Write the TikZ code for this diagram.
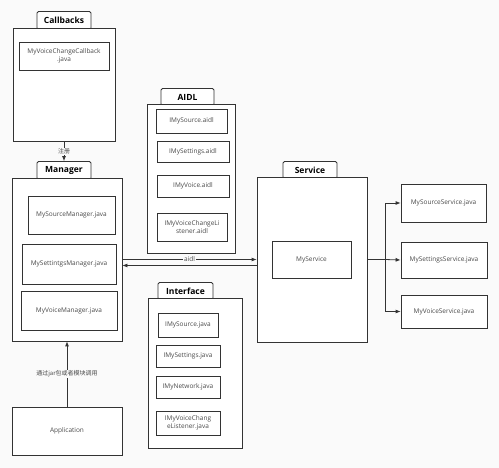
\documentclass[tikz,border=0pt]{standalone}
\usepackage{fontspec}
\setmainfont{Open Sans}
\newfontfamily\cjk{Noto Sans CJK SC}
\usetikzlibrary{arrows.meta,positioning}
\definecolor{Ink}{HTML}{333333}
\definecolor{Muted}{HTML}{4A4A4A}
\definecolor{Paper}{HTML}{FAFAFA}

\begin{document}
\begin{tikzpicture}[
  x=1pt,y=-1pt,
  every node/.style={font=\fontsize{6.5}{7.8}\selectfont,text=Muted},
  grp/.style={draw=Ink,line width=0.8pt,fill=white,inner sep=0pt},
  tab/.style={draw=Ink,line width=0.8pt,fill=white,rounded corners=1.5pt,inner sep=0pt,
    font=\fontsize{8.5}{10}\selectfont\bfseries,text=black},
  item/.style={draw=Ink,line width=0.8pt,fill=white,align=center,inner sep=1pt},
  arr/.style={-{Latex[length=5pt,width=4pt]},line width=0.8pt,color=Ink},
  wire/.style={line width=0.8pt,color=Ink}
]
\fill[Paper] (0,0) rectangle (499,468);
\useasboundingbox (0,0) rectangle (499,468);

% Callbacks
\node[tab,minimum width=54pt,minimum height=18pt,text height=7pt,yshift=1.5pt] (cbtab) at (64,22) {Callbacks};
\node[grp,minimum width=102pt,minimum height=113pt] (cbgrp) at (64,84.5) {};
\node[item,minimum width=90pt,minimum height=28pt] (cbitem) at (64,56) {MyVoiceChangeCallback\\.java};

% Manager
\node[tab,minimum width=54pt,minimum height=18pt,text height=7pt,yshift=1.5pt] (mgrtab) at (64,172) {Manager};
\node[grp,minimum width=110pt,minimum height=163pt] (mgr) at (67,259.5) {};
\node[item,minimum width=87pt,minimum height=38pt] (msrc) at (71.5,215) {MySourceManager.java};
\node[item,minimum width=94pt,minimum height=40pt] (mset) at (69,264) {MySettintgsManager.java};
\node[item,minimum width=96pt,minimum height=39pt] (mvoc) at (69,310.5) {MyVoiceManager.java};

% Application
\node[item,minimum width=110pt,minimum height=48pt] (app) at (67,431) {Application};

% AIDL
\node[tab,minimum width=53pt,minimum height=17pt,text height=7pt,yshift=1.5pt] (aidltab) at (187.5,98.5) {AIDL};
\node[grp,minimum width=88pt,minimum height=149pt] (aidl) at (191,178.5) {};
\node[item,minimum width=71pt,minimum height=24pt] (asrc) at (191.5,121) {IMySource.aidl};
\node[item,minimum width=72pt,minimum height=21pt] (aset) at (193,151.5) {IMySettings.aidl};
\node[item,minimum width=72pt,minimum height=22pt] (avoc) at (193,186) {IMyVoice.aidl};
\node[item,minimum width=70pt,minimum height=28pt] (alis) at (192,227) {IMyVoiceChangeLi\\stener.aidl};

% Interface
\node[tab,minimum width=55pt,minimum height=17pt,text height=7pt,yshift=1.5pt] (itftab) at (185.5,292.5) {Interface};
\node[grp,minimum width=94pt,minimum height=150pt] (itf) at (195,373) {};
\node[item,minimum width=60pt,minimum height=24pt] (isrc) at (188,325) {IMySource.java};
\node[item,minimum width=64pt,minimum height=22pt] (iset) at (188,356) {IMySettings.java};
\node[item,minimum width=64pt,minimum height=22pt] (inet) at (188,387) {IMyNetwork.java};
\node[item,minimum width=64pt,minimum height=24pt] (ilis) at (188,423) {IMyVoiceChang\\eListener.java};

% Service
\node[tab,minimum width=54pt,minimum height=17pt,text height=7pt,yshift=1.5pt] (svctab) at (310,171.5) {Service};
\node[grp,minimum width=110pt,minimum height=165pt] (svcgrp) at (312,259.5) {};
\node[item,minimum width=79pt,minimum height=37pt] (svc) at (311.5,259.5) {MyService};

% service implementations
\node[item,minimum width=85pt,minimum height=38pt] (ssrc) at (443.5,203) {MySourceService.java};
\node[item,minimum width=86pt,minimum height=36pt] (sset) at (444,260) {MySettingsService.java};
\node[item,minimum width=86pt,minimum height=33pt] (svoc) at (444,311.5) {MyVoiceService.java};
\coordinate (fork) at (385,259.5);

% connectors
\draw[arr] (cbgrp) -- (mgrtab) node[midway,fill=Paper,inner sep=0.5pt,font=\cjk\fontsize{6}{7}\selectfont] {注册};
\draw[arr] (app) -- (mgr) node[midway,fill=Paper,inner sep=1pt,font=\fontsize{6}{7}\selectfont] {\cjk 通过jar包或者模块调用};
\draw[arr] (mgr.east) -- (svcgrp.west |- mgr.east) node[midway,fill=Paper,inner sep=0.8pt] {aidl};
\draw[arr] ([yshift=-6pt]svcgrp.west |- mgr.east) -- ([yshift=-6pt]mgr.east);
\draw[wire] (svcgrp.east) -- (fork);
\draw[arr] (fork) |- (ssrc.west);
\draw[arr] (fork) -- (sset.west);
\draw[arr] (fork) |- (svoc.west);
\end{tikzpicture}
\end{document}
